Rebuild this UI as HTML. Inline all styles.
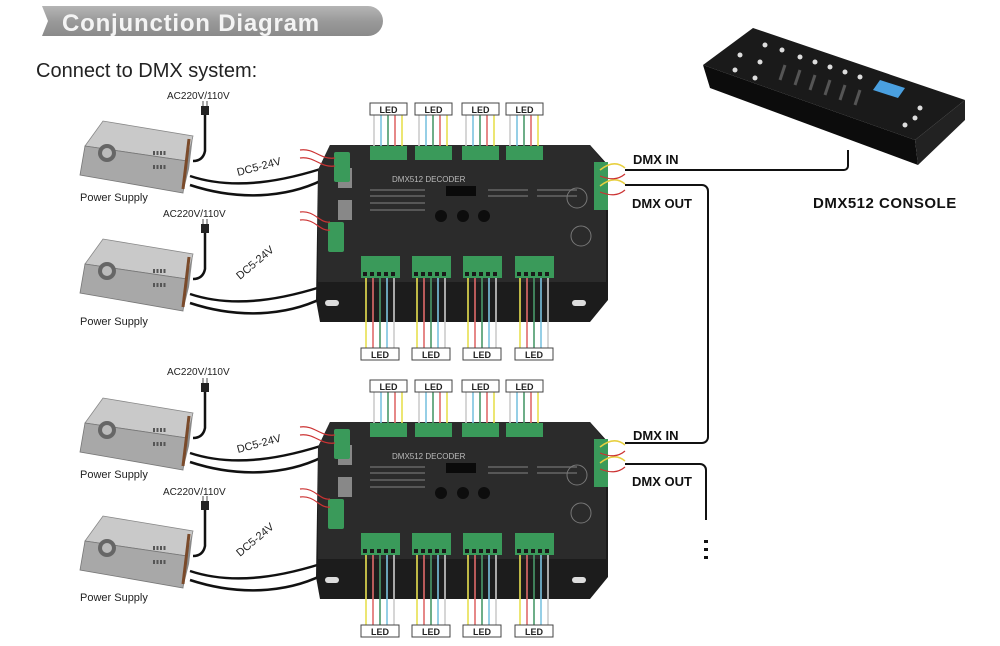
<!DOCTYPE html>
<html><head><meta charset="utf-8"><style>
body{margin:0;background:#fff;}
svg{display:block;font-family:"Liberation Sans",Arial,sans-serif;}
</style></head><body>
<svg width="1000" height="646" viewBox="0 0 1000 646" xmlns="http://www.w3.org/2000/svg">
<defs>
<linearGradient id="ban" x1="0" y1="0" x2="0" y2="1"><stop offset="0" stop-color="#b5b5b5"/><stop offset="0.5" stop-color="#9a9a9a"/><stop offset="1" stop-color="#8a8a8a"/></linearGradient>
<g id="ps">
  <polygon points="0,25 18,0 108,15 102,40" fill="#c9c9c9" stroke="#888" stroke-width="0.8"/>
  <polygon points="0,25 102,40 98,72 -5,54" fill="#a8a8a8" stroke="#777" stroke-width="0.8"/>
  <polygon points="102,40 108,15 104,48 98,72" fill="#8a8a8a"/>
  <circle cx="22" cy="32" r="9" fill="#666"/><circle cx="22" cy="32" r="5" fill="#bbb"/>
  <path d="M68 32h14M68 46h14" stroke="#555" stroke-width="4" stroke-dasharray="2 1.5"/>
  <path d="M104 18 l-6 50" stroke="#7a4a2a" stroke-width="3"/>
  <path d="M108 40 q10 0 12 -10 v-38" stroke="#111" stroke-width="2.5" fill="none"/>
  <rect x="116" y="-15" width="8" height="9" fill="#222"/>
  <path d="M118 -20v5M122 -20v5" stroke="#888" stroke-width="1.5"/>
  <path d="M105 55 C150 70 200 60 245 45" stroke="#111" stroke-width="2.5" fill="none"/>
  <path d="M105 64 C160 82 210 75 245 55" stroke="#111" stroke-width="2.5" fill="none"/>
</g>
<g id="dec">
  <polygon points="330,145 590,145 608,165 608,300 590,322 320,322 316,300 318,170" fill="#1c1c1c"/>
  <polygon points="330,145 590,145 606,165 606,282 318,282 318,170" fill="#2b2b2b"/>
  <rect x="325" y="300" width="14" height="6" rx="3" fill="#ddd"/>
  <rect x="572" y="300" width="14" height="6" rx="3" fill="#ddd"/>
  <text x="392" y="182" font-size="8" fill="#bbb">DMX512 DECODER</text>
  <rect x="446" y="186" width="30" height="10" fill="#0a0a0a"/>
  <circle cx="441" cy="216" r="6" fill="#0d0d0d"/><circle cx="463" cy="216" r="6" fill="#0d0d0d"/><circle cx="484" cy="216" r="6" fill="#0d0d0d"/>
  <path d="M370 190h55M370 196h55M370 203h55M370 210h55" stroke="#666" stroke-width="1.5"/>
  <path d="M488 190h40M488 196h40M537 190h40M537 196h40" stroke="#666" stroke-width="1.5"/>
  <circle cx="577" cy="198" r="10" fill="none" stroke="#777"/><circle cx="581" cy="236" r="10" fill="none" stroke="#777"/>
  <rect x="338" y="168" width="14" height="20" fill="#888"/><rect x="338" y="200" width="14" height="20" fill="#888"/>
  <rect x="334" y="152" width="16" height="30" rx="2" fill="#3a9a5a"/>
  <rect x="328" y="222" width="16" height="30" rx="2" fill="#3a9a5a"/>
  <rect x="594" y="162" width="14" height="48" fill="#3a9a5a"/>
  <path d="M300 150c15 -2 20 10 35 8M300 158c15 -2 20 10 35 8M300 212c15 -2 20 12 30 10M300 220c15 -2 20 12 30 10" stroke="#c33" stroke-width="1.2" fill="none"/>
  <path d="M600 170c10 -8 18 -8 25 -2M600 186c10 -8 18 -8 25 -2" stroke="#e8d040" stroke-width="1.5" fill="none"/>
  <path d="M600 176c10 4 18 4 25 -2M600 192c10 4 18 4 25 -2" stroke="#c33" stroke-width="1.2" fill="none"/>
  <g id="tw">
    <path d="M374 115v32" stroke="#ccc" stroke-width="1.6"/><path d="M381 115v32" stroke="#7cc3e0" stroke-width="1.6"/><path d="M388 115v32" stroke="#4a9a6a" stroke-width="1.6"/><path d="M395 115v32" stroke="#e06a6a" stroke-width="1.6"/><path d="M402 115v32" stroke="#e8e050" stroke-width="1.6"/>
    <rect x="370" y="146" width="37" height="14" fill="#3a9a5a"/>
    <rect x="370" y="103" width="37" height="12" fill="#fff" stroke="#444"/>
    <text x="388.5" y="113" font-size="9" font-weight="bold" text-anchor="middle" fill="#222">LED</text>
  </g>
  <use href="#tw" x="45"/><use href="#tw" x="92"/><use href="#tw" x="136"/>
  <g id="bw">
    <path d="M366 275v73" stroke="#e8e050" stroke-width="1.6"/><path d="M373 275v73" stroke="#e06a6a" stroke-width="1.6"/><path d="M380 275v73" stroke="#4a9a6a" stroke-width="1.6"/><path d="M387 275v73" stroke="#7cc3e0" stroke-width="1.6"/><path d="M394 275v73" stroke="#ccc" stroke-width="1.6"/>
    <rect x="361" y="256" width="39" height="22" fill="#3a9a5a"/>
    <path d="M363 274h35" stroke="#1a1a1a" stroke-width="4" stroke-dasharray="4 3"/>
    <rect x="361" y="348" width="38" height="12" fill="#fff" stroke="#444"/>
    <text x="380" y="358" font-size="9" font-weight="bold" text-anchor="middle" fill="#222">LED</text>
  </g>
  <use href="#bw" x="51"/><use href="#bw" x="102"/><use href="#bw" x="154"/>
</g>
</defs>

<path d="M42 6 H368 a14 14 0 0 1 0 30 H42 l6 -15 z" fill="url(#ban)"/>
<text x="62" y="31" font-size="24" font-weight="bold" fill="#f4f4f4" letter-spacing="0.8">Conjunction Diagram</text>
<text x="36" y="77" font-size="20" fill="#222">Connect to DMX system:</text>

<use href="#ps" x="85" y="121"/>
<use href="#ps" x="85" y="239"/>
<use href="#ps" x="85" y="398"/>
<use href="#ps" x="85" y="516"/>
<g font-size="11" fill="#222">
<text x="80" y="201">Power Supply</text><text x="80" y="325">Power Supply</text>
<text x="80" y="478">Power Supply</text><text x="80" y="601">Power Supply</text>
<text x="167" y="99" font-size="10">AC220V/110V</text><text x="163" y="217" font-size="10">AC220V/110V</text>
<text x="167" y="375" font-size="10">AC220V/110V</text><text x="163" y="495" font-size="10">AC220V/110V</text>
<text transform="translate(238,176) rotate(-15)" font-size="11">DC5-24V</text>
<text transform="translate(240,280) rotate(-40)" font-size="11">DC5-24V</text>
<text transform="translate(238,453) rotate(-15)" font-size="11">DC5-24V</text>
<text transform="translate(240,557) rotate(-40)" font-size="11">DC5-24V</text>
</g>

<use href="#dec"/>
<use href="#dec" y="277"/>

<polygon points="703,65 753,28 965,100 915,140" fill="#1a1a1a"/>
<polygon points="703,65 915,140 918,165 710,88" fill="#0c0c0c"/>
<polygon points="915,140 965,100 965,120 918,165" fill="#222"/>
<polygon points="880,80 905,88 898,98 873,90" fill="#4aa0e0"/>
<g fill="#ddd">
<circle cx="765" cy="45" r="2.5"/><circle cx="782" cy="50" r="2.5"/><circle cx="740" cy="55" r="2.5"/><circle cx="760" cy="62" r="2.5"/><circle cx="735" cy="70" r="2.5"/><circle cx="755" cy="78" r="2.5"/>
<circle cx="800" cy="57" r="2.5"/><circle cx="815" cy="62" r="2.5"/><circle cx="830" cy="67" r="2.5"/><circle cx="845" cy="72" r="2.5"/><circle cx="860" cy="77" r="2.5"/><circle cx="920" cy="108" r="2.5"/><circle cx="915" cy="118" r="2.5"/><circle cx="905" cy="125" r="2.5"/>
</g>
<path d="M780 80l5 -15M795 85l5 -15M810 90l5 -15M825 95l5 -15M840 100l5 -15M855 105l5 -15" stroke="#555" stroke-width="3"/>
<text x="813" y="208" font-size="15" font-weight="bold" fill="#111" letter-spacing="0.5">DMX512 CONSOLE</text>

<g fill="none" stroke="#111" stroke-width="2">
<path d="M848 150 V166 a4 4 0 0 1 -4 4 H625"/>
<path d="M625 185 H702 a6 6 0 0 1 6 6 V437 a6 6 0 0 1 -6 6 H625"/>
<path d="M625 464 H700 a6 6 0 0 1 6 6 V520"/>
</g>
<path d="M706 540v3M706 548v3M706 556v3" stroke="#111" stroke-width="4"/>
<g font-size="13" font-weight="bold" fill="#111">
<text x="633" y="164">DMX IN</text><text x="632" y="208">DMX OUT</text>
<text x="633" y="440">DMX IN</text><text x="632" y="486">DMX OUT</text>
</g>
</svg>
</body></html>
